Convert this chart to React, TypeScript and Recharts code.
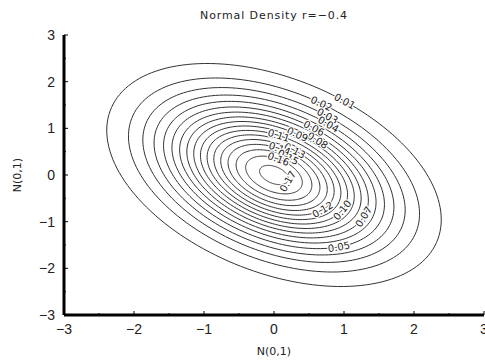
import { LineChart, Line, XAxis, YAxis } from "recharts"

// correlation of the two N(0,1) variables
const rho = -0.4

// contour levels of the density
const levels = [0.01, 0.02, 0.03, 0.04, 0.05, 0.06, 0.07, 0.08, 0.09, 0.1, 0.11, 0.12, 0.13, 0.14, 0.15, 0.16, 0.17]
const levelLabels = ["0.01", "0.02", "0.03", "0.04", "0.05", "0.06", "0.07", "0.08", "0.09", "0.10", "0.11", "0.12", "0.13", "0.14", "0.15", "0.16", "0.17"]

// where the label sits on each contour (angle in degrees along the ellipse)
const labelAngles = [65, 71, 66, 63, -54, 67, -18, 60, 73, -22, 86, -36, 67, 83, 68, 81, -17]

const axisTicks = [-3, -2.5, -2, -1.5, -1, -0.5, 0, 0.5, 1, 1.5, 2, 2.5, 3]

const STEPS = 160

// points of the ellipse where the bivariate normal density equals `level`
function contour(level: number, startDeg: number) {
  const s = Math.sqrt(1 - rho * rho)
  const q = -2 * Math.log(2 * Math.PI * s * level)
  const rad = Math.sqrt(q)
  const pts = []
  for (let i = 0; i <= STEPS; i++) {
    const t = ((startDeg + (360 * i) / STEPS) * Math.PI) / 180
    pts.push({ x: rad * Math.cos(t), y: rad * (rho * Math.cos(t) + s * Math.sin(t)) })
  }
  return pts
}

const fmt = (v: number) => (v < 0 ? "\u2212" + Math.abs(v) : String(v))

const XTick = (props: any) => {
  const { x, y, payload } = props
  const major = Number.isInteger(payload.value)
  return (
    <g>
      <line x1={x} x2={x} y1={y} y2={y - (major ? 4 : 2)} stroke="#000" strokeWidth={1} />
      {major && (
        <text x={x} y={y + 19} textAnchor="middle" fontSize={14} fill="#222" fontFamily="Liberation Sans, Arial, sans-serif">
          {fmt(payload.value)}
        </text>
      )}
    </g>
  )
}

const YTick = (props: any) => {
  const { x, y, payload } = props
  const major = Number.isInteger(payload.value)
  return (
    <g>
      <line x1={x} x2={x + (major ? 4 : 2)} y1={y} y2={y} stroke="#000" strokeWidth={1} />
      {major && (
        <text x={x - 9} y={y + 5} textAnchor="end" fontSize={14} fill="#222" fontFamily="Liberation Sans, Arial, sans-serif">
          {fmt(payload.value)}
        </text>
      )}
    </g>
  )
}

const makeLabelDot = (text: string) => (props: any) => {
  const { cx, cy, index, points } = props
  if (index !== 0) return <g key={`d-${index}`} />
  let angle = 0
  if (points && points.length > 2) {
    const a = points[points.length - 2]
    const b = points[1]
    angle = (Math.atan2(b.y - a.y, b.x - a.x) * 180) / Math.PI
    if (angle > 90) angle -= 180
    if (angle < -90) angle += 180
  }
  return (
    <text
      key="lbl"
      x={cx}
      y={cy}
      dy={3.5}
      textAnchor="middle"
      fontSize={10}
      fill="#222"
      stroke="#fff"
      strokeWidth={2.5}
      paintOrder="stroke"
      fontFamily="DejaVu Sans, sans-serif"
      transform={`rotate(${angle} ${cx} ${cy})`}
    >
      {text}
    </text>
  )
}

export default function App() {
  return (
    <div style={{ position: "absolute", left: 0, top: 0, width: 485, height: 360, background: "#fff" }}>
      <LineChart width={485} height={360} margin={{ top: 35, right: 1, left: 0, bottom: 0 }}>
        <text x={274} y={19} textAnchor="middle" fontSize={11} fill="#222" letterSpacing={0.9} fontFamily="DejaVu Sans, sans-serif">
          Normal Density r={"\u2212"}0.4
        </text>
        <text x={274} y={355} textAnchor="middle" fontSize={11} fill="#222" fontFamily="DejaVu Sans, sans-serif">
          N(0,1)
        </text>
        <text x={21} y={175} textAnchor="middle" fontSize={11} fill="#222" fontFamily="DejaVu Sans, sans-serif" transform="rotate(-90 21 175)">
          N(0,1)
        </text>
        <XAxis
          type="number"
          dataKey="x"
          domain={[-3, 3]}
          ticks={axisTicks}
          interval={0}
          height={45}
          tickSize={0}
          tickMargin={0}
          tickLine={false}
          axisLine={{ stroke: "#000", strokeWidth: 3 }}
          tick={<XTick />}
          allowDataOverflow
        />
        <YAxis
          type="number"
          dataKey="y"
          domain={[-3, 3]}
          ticks={axisTicks}
          interval={0}
          width={64}
          tickSize={0}
          tickMargin={0}
          tickLine={false}
          axisLine={{ stroke: "#000", strokeWidth: 3 }}
          tick={<YTick />}
          allowDataOverflow
        />
        {levels.map((lv, i) => (
          <Line
            key={lv}
            data={contour(lv, labelAngles[i])}
            dataKey="y"
            type="linear"
            stroke="#333"
            strokeWidth={1}
            dot={makeLabelDot(levelLabels[i])}
            activeDot={false}
            isAnimationActive={false}
          />
        ))}
      </LineChart>
    </div>
  )
}
